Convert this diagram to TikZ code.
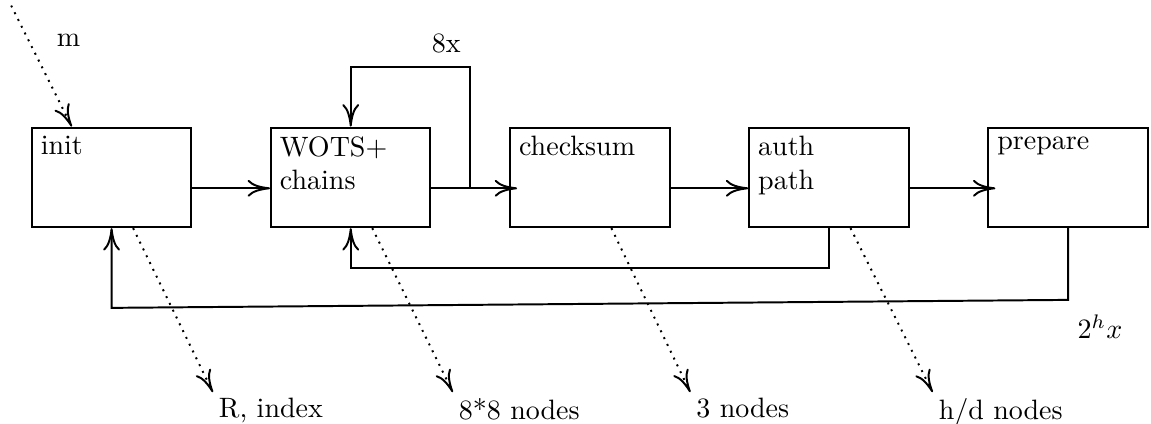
\documentclass[tikz,border=0pt]{standalone}
\usepackage{amsmath,amssymb}
\usepackage{tikz}
\usetikzlibrary{arrows.meta}
\tikzstyle{block}=[rectangle, draw, line width=0.7pt, minimum width=2cm, minimum height=1.25cm, inner sep=0pt]
\tikzstyle{tag}=[anchor=north west, align=left]
\tikzstyle{sink}=[anchor=north west, inner sep=2pt]
\tikzstyle{flow}=[->, line width=0.7pt]
\tikzstyle{leak}=[->, dotted, line width=0.7pt]
\newcommand{\block}{\node[block]}

\begin{document}
\begin{tikzpicture}[>={To[length=8pt,width=6pt]}]
	\useasboundingbox (-0.4,-2.46) rectangle (14.04,2.85);
	%% The five stages, left to right; their titles sit in the top left corner.
	\block (init) at (1,0.625) {};
	\block (wots) at (4,0.625) {};
	\block (chk)  at (7,0.625) {};
	\block (auth) at (10,0.625) {};
	\block (prep) at (13,0.625) {};
	\node[tag] (initt) at (init.north west) {init};
	\node[tag] (wotst) at (wots.north west) {WOTS+\\chains};
	\node[tag] (chkt)  at (chk.north west) {checksum};
	\node[tag] (autht) at (auth.north west) {auth\\path};
	\node[tag] (prept) at (prep.north west) {prepare};

	%% Input, loop counts and what each stage hands out below.
	\coordinate (msrc) at (-0.26,2.78);
	\node (mlab) at (0.46,2.35) {m};
	\node (loops) at (5.2,2.3) {8x};
	\node (rounds) at (13.4,-1.25) {$2^h x$};
	\node[sink] (rlab) at (2.27,-2.07) {R, index};
	\node[sink] (wlab) at (5.28,-2.07) {8*8 nodes};
	\node[sink] (clab) at (8.26,-2.07) {3 nodes};
	\node[sink] (alab) at (11.3,-2.07) {h/d nodes};

	\coordinate (split) at (5.5,0.5);
	\path[flow]
		([yshift=5mm]init.south east) edge ([yshift=5mm]wots.south west)
		([yshift=5mm]wots.south east) edge ([shift={(1mm,5mm)}]chk.south west)
		([yshift=5mm]chk.south east)  edge ([yshift=5mm]auth.south west)
		([yshift=5mm]auth.south east) edge ([shift={(1mm,5mm)}]prep.south west)
	;
	% feedback lines
	\draw[flow] (split) |- ([yshift=7.5mm]wots.north) -- (wots.north);
	\draw[flow] (auth.south) -- ++(0,-0.5) -| (wots.south);
	\draw[flow] (prep.south) -- ++(0,-0.9) -- ([yshift=-1cm]init.south) -- (init.south);

	% dotted in and out
	\path[leak]
		(msrc) edge ([xshift=-5mm]init.north)
		([xshift=2.7mm]init.south) edge (rlab.north west)
		([xshift=2.7mm]wots.south) edge (wlab.north west)
		([xshift=2.7mm]chk.south)  edge (clab.north west)
		([xshift=2.7mm]auth.south) edge (alab.north west)
	;
\end{tikzpicture}
\end{document}
